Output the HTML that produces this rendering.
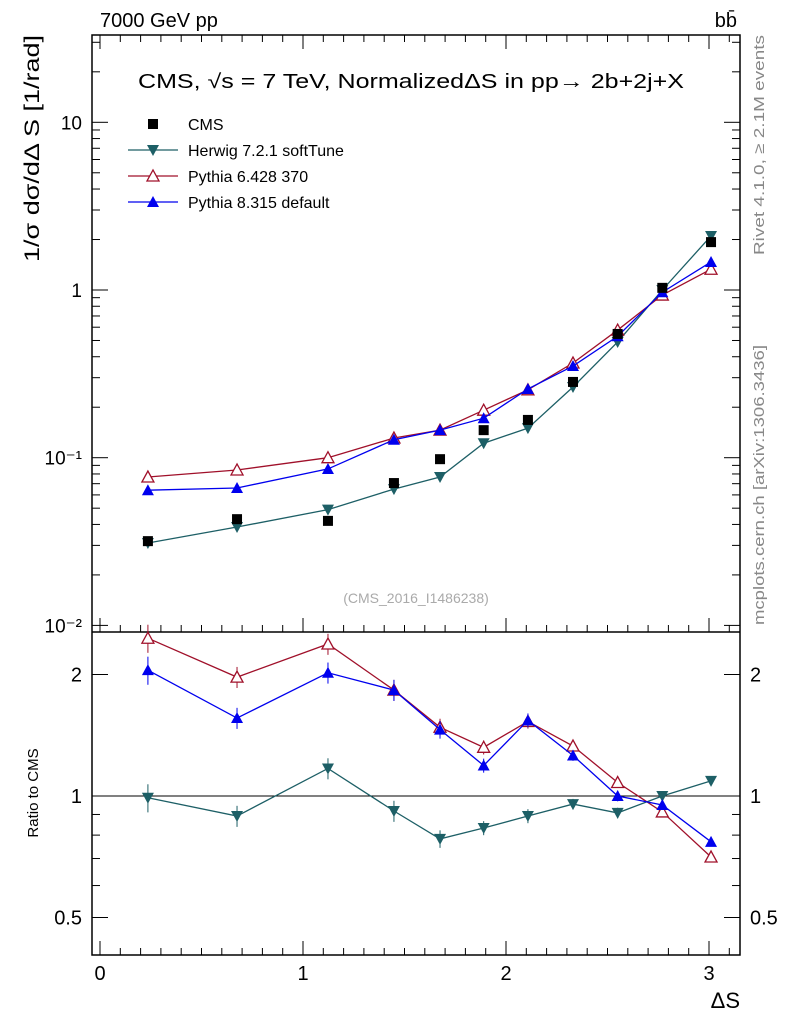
<!DOCTYPE html>
<html><head><meta charset="utf-8"><style>
body{margin:0;background:#fff;}
svg text{font-family:"Liberation Sans",sans-serif;}
</style></head><body>
<svg id="c" width="786" height="1024" xmlns="http://www.w3.org/2000/svg"></svg>
<script>
const xs=[0.236,0.675,1.123,1.448,1.675,1.89,2.108,2.33,2.55,2.77,3.01];
const cms=[0.0318,0.043,0.042,0.0706,0.098,0.146,0.168,0.283,0.547,1.03,1.93];
const herwig=[0.031,0.0386,0.049,0.065,0.0767,0.122,0.150,0.264,0.49,1.0,2.1];
const py6=[0.0767,0.0845,0.1,0.131,0.146,0.192,0.254,0.367,0.577,0.933,1.33];
const py8=[0.064,0.066,0.0857,0.128,0.146,0.172,0.257,0.352,0.53,0.97,1.47];
const rHerwig=[0.99,0.892,1.17,0.918,0.783,0.833,0.892,0.955,0.908,1.0,1.09];
const rPy6=[2.46,1.97,2.38,1.83,1.48,1.32,1.53,1.33,1.08,0.913,0.706];
const rPy8=[2.05,1.56,2.02,1.83,1.46,1.19,1.54,1.26,1.0,0.95,0.77];
const rErr=[0.08,0.06,0.06,0.06,0.05,0.04,0.04,0.03,0.03,0.02,0.02];
const xTicks=[0,1,2,3];
const yTicks=[10,1,0.1,0.01];
const yTickLabels=["10","1","10⁻¹","10⁻²"];
const rTicks=[2,1,0.5];

const svg=document.getElementById('c');const NS='http://www.w3.org/2000/svg';
function el(t,a,n,p){const e=document.createElementNS(NS,t);for(const k in a)e.setAttribute(k,a[k]);(p||svg).appendChild(e);return e;}
function tx(x,y,s,n,o){const e=el('text',Object.assign({x:x,y:y,'font-size':18},o||{}),n);e.textContent=s;return e;}
const L=92,R=740,T=35,M=632,B=955;
const X=v=>100+v*203;
const Y=v=>290-Math.log10(v)*167.7;
const RY=v=>796-Math.log2(v)*121.5;
el('rect',{x:L,y:T,width:R-L,height:B-T,fill:'none',stroke:'#000','stroke-width':1.5},'plot-frame');
el('line',{x1:L,x2:R,y1:M,y2:M,stroke:'#000','stroke-width':1.5},'panel-divider');
for(let v=0;v<=3.15;v+=0.1){const big=Math.abs(v-Math.round(v))<1e-6;const h=big?14:7;
 [M,B].forEach(yy=>{el('line',{x1:X(v),x2:X(v),y1:yy,y2:yy-h,stroke:'#000'},'x-tick');});
 el('line',{x1:X(v),x2:X(v),y1:T,y2:T+h,stroke:'#000'},'x-tick');}
xTicks.forEach(v=>tx(X(v),980,String(v),'x-tick-label',{'text-anchor':'middle','font-size':20}));
tx(740,1008,'ΔS','x-axis-title',{'text-anchor':'end','font-size':22});
for(let d=-3;d<=1;d++)for(let m=1;m<10;m++){const v=m*Math.pow(10,d);const y=Y(v);if(y<T||y>M)continue;const h=m==1?16:8;
 el('line',{x1:L,x2:L+h,y1:y,y2:y,stroke:'#000'},'y-tick');el('line',{x1:R,x2:R-h,y1:y,y2:y,stroke:'#000'},'y-tick');}
yTicks.forEach((v,i)=>tx(82,Y(v)+7,yTickLabels[i],'y-tick-label',{'text-anchor':'end','font-size':19}));
tx(0,0,'1/σ dσ/dΔ S [1/rad]','y-axis-title',{'font-size':21,'text-anchor':'end',textLength:227,lengthAdjust:'spacingAndGlyphs',transform:'translate(39,35) rotate(-90)'});
[0.5,0.6,0.7,0.8,0.9,1,2].forEach(v=>{const y=RY(v);const h=(v==1||v==2||v==0.5)?16:8;
 el('line',{x1:L,x2:L+h,y1:y,y2:y,stroke:'#000'},'ratio-tick');el('line',{x1:R,x2:R-h,y1:y,y2:y,stroke:'#000'},'ratio-tick');});
rTicks.forEach(v=>{tx(82,RY(v)+7,String(v),'ratio-tick-label',{'text-anchor':'end','font-size':20});tx(750,RY(v)+7,String(v),'ratio-tick-label-right',{'font-size':20});});
tx(0,0,'Ratio to CMS','ratio-axis-title',{'font-size':15,'text-anchor':'middle',transform:'translate(38,793) rotate(-90)'});
el('line',{x1:L,x2:R,y1:RY(1),y2:RY(1),stroke:'#000'},'ratio-unity-line');
tx(100,27,'7000 GeV pp','header-left',{'font-size':20});
tx(737,27,'bb̄','header-right',{'font-size':20,'text-anchor':'end'});
tx(138,88,'CMS, √s = 7 TeV, NormalizedΔS in pp→  2b+2j+X','plot-title',{'font-size':20,textLength:546,lengthAdjust:'spacingAndGlyphs'});
tx(0,0,'Rivet 4.1.0, ≥ 2.1M events','rivet-label',{'font-size':15,fill:'#888',textLength:220,lengthAdjust:'spacingAndGlyphs',transform:'translate(764,255) rotate(-90)'});
tx(0,0,'mcplots.cern.ch [arXiv:1306.3436]','mcplots-label',{'font-size':15,fill:'#888',textLength:280,lengthAdjust:'spacingAndGlyphs',transform:'translate(764,625) rotate(-90)'});
tx(416,603,'(CMS_2016_I1486238)','analysis-id',{'font-size':14,fill:'#aaa','text-anchor':'middle'});
function mk(type,x,y,c,n){if(type=='sq')el('rect',{x:x-5,y:y-5,width:10,height:10,fill:c},n);
 else if(type=='td')el('path',{d:`M${x-6},${y-5}L${x+6},${y-5}L${x},${y+6}Z`,fill:c},n);
 else if(type=='tu')el('path',{d:`M${x-6},${y+5}L${x+6},${y+5}L${x},${y-6}Z`,fill:c},n);
 else el('path',{d:`M${x-6},${y+5}L${x+6},${y+5}L${x},${y-6}Z`,fill:'#fff',stroke:c,'stroke-width':1.3},n);}
const series=[[herwig,rHerwig,'#1d5f66','td','herwig'],[py6,rPy6,'#a0102a','to','pythia6'],[py8,rPy8,'#0000ee','tu','pythia8']];
series.forEach(s=>{const [m,r,c,t,n]=s;
 el('polyline',{points:xs.map((x,i)=>X(x)+','+Y(m[i])).join(' '),fill:'none',stroke:c,'stroke-width':1.3},n+'-line');
 el('polyline',{points:xs.map((x,i)=>X(x)+','+RY(r[i])).join(' '),fill:'none',stroke:c,'stroke-width':1.3},n+'-ratio-line');
 xs.forEach((x,i)=>{el('line',{x1:X(x),x2:X(x),y1:RY(r[i]*(1+rErr[i])),y2:RY(r[i]*(1-rErr[i])),stroke:c},n+'-ratio-error');
  mk(t,X(x),Y(m[i]),c,n+'-point');mk(t,X(x),RY(r[i]),c,n+'-ratio-point');});});
xs.forEach((x,i)=>mk('sq',X(x),Y(cms[i]),'#000','cms-point'));
const lg=[['sq','#000','CMS'],['td','#1d5f66','Herwig 7.2.1 softTune'],['to','#a0102a','Pythia 6.428 370'],['tu','#0000ee','Pythia 8.315 default']];
lg.forEach((e,i)=>{const y=124+i*26;if(i>0)el('line',{x1:128,x2:178,y1:y,y2:y,stroke:e[1],'stroke-width':1.3},'legend-line');
 mk(e[0],153,y,e[1],'legend-marker');tx(188,y+6,e[2],'legend-entry',{'font-size':16});});
</script>
</body></html>
